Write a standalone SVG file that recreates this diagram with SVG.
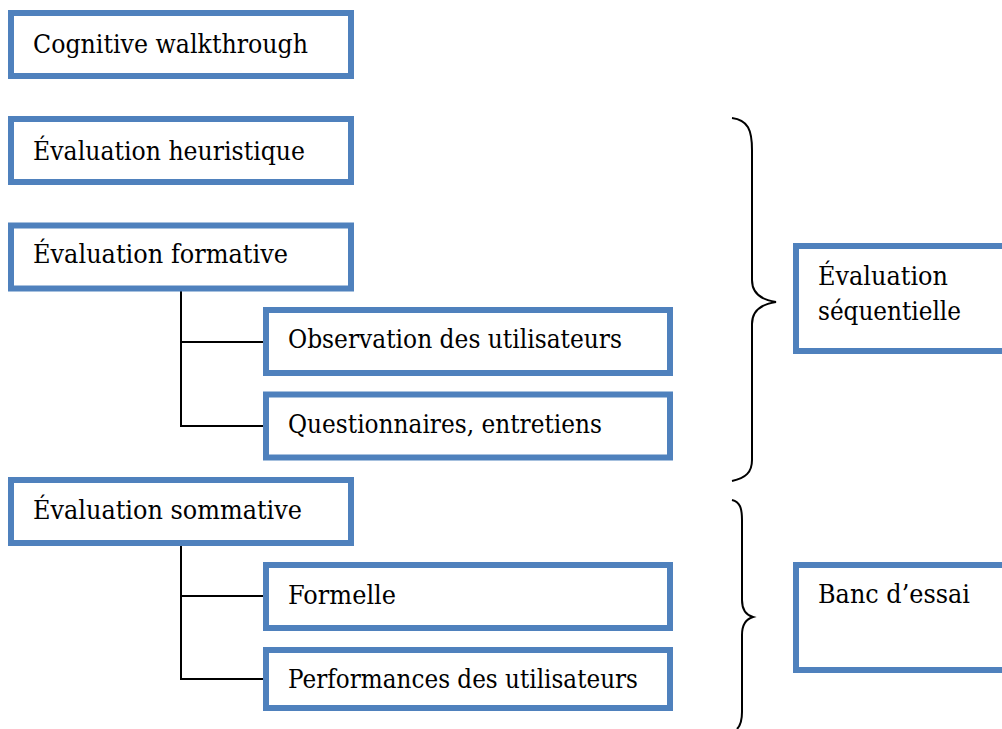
<svg xmlns="http://www.w3.org/2000/svg" width="1002" height="729" viewBox="0 0 1002 729">
<style>
.box{fill:#fff;stroke:#4F81BD;stroke-width:6}
text{font-family:'DejaVu Serif','Liberation Serif',serif;font-size:26px;fill:#000}
.c{fill:none;stroke:#000;stroke-width:2}
</style>
<rect width="1002" height="729" fill="#fff"/>
<g id="connectors">
<path class="c" d="M181,291 V426 H263 M181,342 H263"/>
<path class="c" d="M181,546 V679 H263 M181,596 H263"/>
<path class="c" d="M732,118 C748,120 752,130 752,150 L752,280 C752,294 762,300 776,302 C762,304 752,310 752,324 L752,460 C752,472 746,478 732,481"/>
<path class="c" d="M732,500 C740,502 742,508 742,520 L742,600 C742,610 746,615 753,617 C746,619 742,624 742,635 L742,712 C742,720 740,726 737,729"/>
</g>
<g id="n1"><rect class="box" x="11" y="13" width="340" height="63"/><text x="33" y="53" textLength="275" lengthAdjust="spacingAndGlyphs">Cognitive walkthrough</text></g>
<g id="n2"><rect class="box" x="11" y="119" width="340" height="63"/><text x="33" y="160" textLength="272" lengthAdjust="spacingAndGlyphs">Évaluation heuristique</text></g>
<g id="n3"><rect class="box" x="11" y="225.5" width="340" height="63"/><text x="33" y="263" textLength="255" lengthAdjust="spacingAndGlyphs">Évaluation formative</text></g>
<g id="n4"><rect class="box" x="266" y="310" width="404" height="63"/><text x="288" y="348" textLength="334" lengthAdjust="spacingAndGlyphs">Observation des utilisateurs</text></g>
<g id="n5"><rect class="box" x="266" y="394.5" width="404" height="63"/><text x="288" y="433" textLength="314" lengthAdjust="spacingAndGlyphs">Questionnaires, entretiens</text></g>
<g id="n6"><rect class="box" x="11" y="480" width="340" height="63"/><text x="33" y="519" textLength="269" lengthAdjust="spacingAndGlyphs">Évaluation sommative</text></g>
<g id="n7"><rect class="box" x="266" y="565" width="404" height="63"/><text x="288" y="604" textLength="108" lengthAdjust="spacingAndGlyphs">Formelle</text></g>
<g id="n8"><rect class="box" x="266" y="650" width="404" height="58"/><text x="288" y="688" textLength="350" lengthAdjust="spacingAndGlyphs">Performances des utilisateurs</text></g>
<g id="n9"><rect class="box" x="796" y="246" width="230" height="105"/><text x="818" y="285" textLength="130" lengthAdjust="spacingAndGlyphs">Évaluation</text><text x="818" y="320" textLength="143" lengthAdjust="spacingAndGlyphs">séquentielle</text></g>
<g id="n10"><rect class="box" x="796" y="565" width="230" height="105"/><text x="818" y="603" textLength="152" lengthAdjust="spacingAndGlyphs">Banc d’essai</text></g>
</svg>
